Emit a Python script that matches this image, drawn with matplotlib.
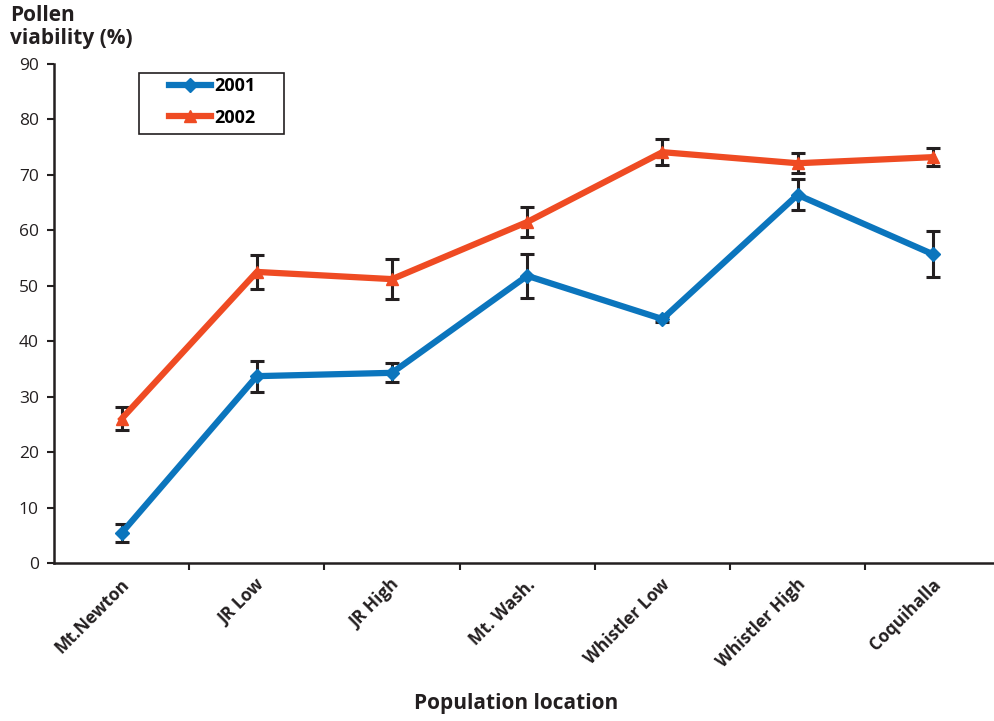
import matplotlib.pyplot as plt
from matplotlib.patches import Rectangle
import numpy as np

sites = ['Mt.Newton', 'JR Low', 'JR High', 'Mt. Wash.', 'Whistler Low',
         'Whistler High', 'Coquihalla']
v2001 = [5.4, 33.7, 34.3, 51.8, 44.0, 66.4, 55.7]
e2001 = [1.6, 2.8, 1.7, 4.0, 0.5, 2.8, 4.1]
v2002 = [26.0, 52.5, 51.2, 61.5, 74.1, 72.1, 73.2]
e2002 = [2.1, 3.0, 3.6, 2.7, 2.3, 1.8, 1.6]

dark = '#231f20'
blue = '#0b75bd'
red = '#ef4b23'
bold = dict(family='Open Sans', fontweight='bold', color=dark)

fig = plt.figure(figsize=(9.95, 7.21), dpi=100)
ax = fig.add_axes([54 / 995, 158 / 721, 941 / 995, 499 / 721])

x = np.arange(len(sites))
for vals, errs in [(v2001, e2001), (v2002, e2002)]:
    ax.errorbar(x, vals, yerr=errs, fmt='none', ecolor=dark, elinewidth=2.2,
                capsize=5, capthick=2.2, zorder=2)
ax.plot(x, v2001, color=blue, lw=4.5, marker='D', ms=7, label='2001', zorder=3)
ax.plot(x, v2002, color=red, lw=4.5, marker='^', ms=8, label='2002', zorder=3)

ax.set_xlim(-0.5, 6.46)
ax.set_ylim(0, 90)
ax.set_yticks(range(0, 91, 10))
ax.tick_params(axis='y', direction='out', length=5, width=1.5, color=dark,
               labelsize=12.5, labelcolor=dark, pad=6)
ax.set_xticks(x)
ax.set_xticklabels([])
ax.tick_params(axis='x', which='major', length=0)
ax.set_xticks(np.arange(0.5, 6, 1), minor=True)
ax.tick_params(axis='x', which='minor', direction='out', length=5, width=1.5,
               color=dark)
for lbl in ax.get_yticklabels():
    lbl.set_family('Open Sans')

for xi, name in zip(x, sites):
    ax.annotate(name, xy=(xi, 0), xycoords=('data', 'axes fraction'),
                xytext=(-1, -9), textcoords='offset points', rotation=45,
                ha='right', va='top', rotation_mode='anchor',
                fontsize=12.5, **bold)

for side in ['top', 'right']:
    ax.spines[side].set_visible(False)
for side in ['left', 'bottom']:
    ax.spines[side].set_color(dark)
    ax.spines[side].set_linewidth(1.8)

fig.text(10 / 995, 1 - 5 / 721, 'Pollen\nviability (%)', ha='left', va='top',
         fontsize=15, linespacing=1.1, **bold)
fig.text(516 / 995, 1 - 703 / 721, 'Population location', ha='center',
         va='center', fontsize=15, **bold)

# legend box drawn separately so it can be wider than the entries
fig.patches.append(Rectangle((139 / 995, 1 - 134 / 721), 145 / 995, 61 / 721,
                             transform=fig.transFigure, fill=False,
                             edgecolor=dark, lw=1.2))
ax.legend(loc='upper left', bbox_to_anchor=(169 / 995, 1 - 77 / 721),
          bbox_transform=fig.transFigure, frameon=False,
          prop={'family': 'Open Sans', 'weight': 'bold', 'size': 13},
          handlelength=2.3, borderpad=0, labelspacing=0.75,
          handletextpad=0.2, borderaxespad=0)

fig.savefig('out.png', dpi=100)
